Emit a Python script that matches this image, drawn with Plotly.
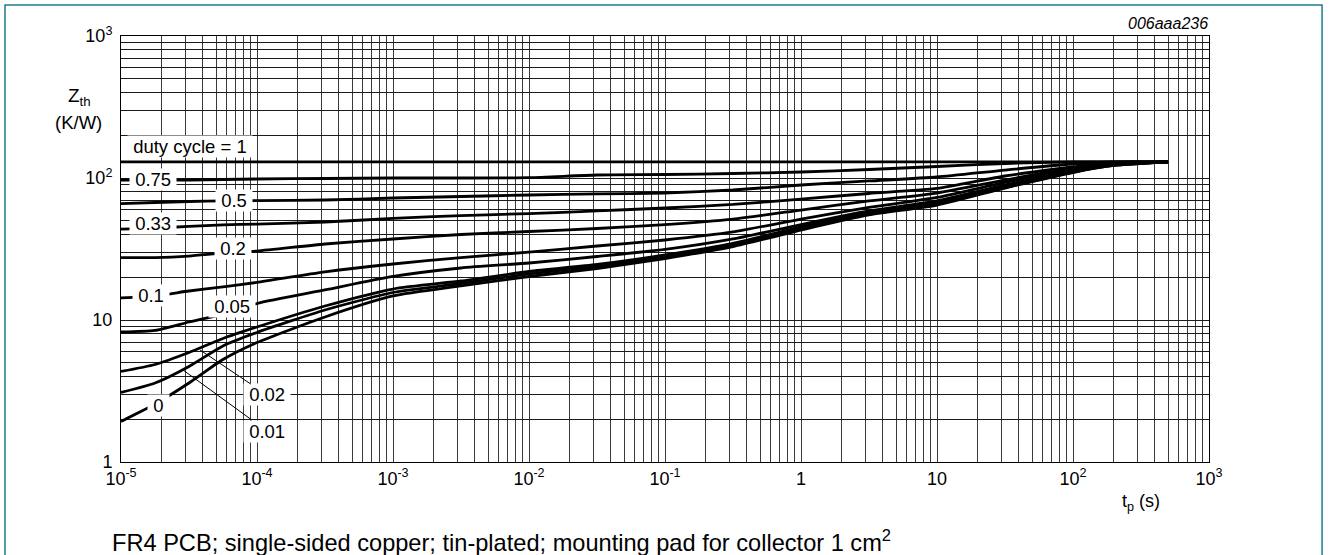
import plotly.graph_objects as go

# ---------------- data ----------------
t_p = [1e-5, 1.78e-5, 3.16e-5, 5.62e-5, 1e-4, 3.16e-4, 1e-3, 3.16e-3, 1e-2, 3.16e-2,
       0.1, 0.316, 1, 3.16, 10, 31.6, 100, 200, 500]

z_d1 = [130, 130, 130, 130, 130, 130, 130, 130, 130, 130, 130, 130, 130, 130, 130, 130, 130, 130, 130]
z_d075 = [96.8, 96.8, 96.8, 97.6, 98.4, 99.2, 100, 100, 100.5, 105, 105.8, 107.6, 110.2, 114.8, 120.5, 126.5, 130, 130, 130]
z_d05 = [66.1, 67.2, 68.3, 68.9, 69.4, 70.0, 72.3, 74.1, 75.9, 77.2, 78.4, 82.3, 89.3, 95.3, 101.6, 113.8, 125.5, 130, 130]
z_d033 = [43.7, 44.4, 45.6, 46.7, 47.4, 49.0, 51.9, 54.4, 56.2, 58.6, 61.5, 65.1, 71.1, 77.8, 84.4, 103.3, 119.5, 128.6, 130]
z_d02 = [27.5, 27.5, 28.2, 29.6, 30.6, 34.3, 37.2, 40.0, 42.0, 44.1, 47.0, 51.4, 59.5, 68.9, 78.4, 96.8, 117.6, 126.5, 130]
z_d01 = [14.3, 14.8, 16.0, 17.1, 18.4, 21.8, 24.8, 27.5, 30.1, 33.2, 36.6, 41.7, 51.4, 62.0, 72.9, 93.0, 115.7, 125.5, 130]
z_d005 = [8.23, 8.44, 9.68, 11.0, 13.07, 16.27, 20.25, 23.24, 25.2, 28.0, 31.4, 37.2, 47.0, 58.6, 68.9, 89.3, 112.9, 124.5, 130]
z_d002 = [4.34, 4.86, 5.90, 7.41, 8.93, 12.55, 16.53, 18.82, 21.96, 24.6, 28.7, 34.6, 45.2, 56.7, 66.7, 87.1, 111.1, 123.5, 130]
z_d001 = [3.09, 3.60, 4.71, 6.56, 8.17, 11.76, 15.62, 18.07, 21.09, 23.82, 27.8, 33.7, 44.1, 55.8, 65.6, 85.7, 110.2, 122.5, 130]
z_d0 = [1.93, 2.56, 3.60, 5.27, 6.94, 10.5, 14.76, 17.36, 20.25, 23.05, 27.1, 32.9, 43.0, 54.9, 64.5, 85.0, 109.3, 122.5, 130]

series = [z_d1, z_d075, z_d05, z_d033, z_d02, z_d01, z_d005, z_d002, z_d001, z_d0]
series_names = ["1", "0.75", "0.5", "0.33", "0.2", "0.1", "0.05", "0.02", "0.01", "0"]

x_decades = [1e-5, 1e-4, 1e-3, 1e-2, 1e-1, 1, 10, 100, 1000]
x_decade_labels = ["10<sup>-5</sup>", "10<sup>-4</sup>", "10<sup>-3</sup>", "10<sup>-2</sup>",
                   "10<sup>-1</sup>", "1", "10", "10<sup>2</sup>", "10<sup>3</sup>"]
y_decades = [1, 10, 100, 1000]
y_decade_labels = ["1", "10", "10<sup>2</sup>", "10<sup>3</sup>"]
minor_digits = [2, 3, 4, 5, 6, 7, 8, 9]

# curve labels: text, label position (log10 t, log10 Z), optional leader tip
curve_labels = [
    ("duty cycle = 1", -4.493, 2.225, None),
    ("0.75", -4.765, 1.986, None),
    ("0.5", -4.169, 1.845, None),
    ("0.33", -4.765, 1.683, None),
    ("0.2", -4.176, 1.507, None),
    ("0.1", -4.779, 1.176, None),
    ("0.05", -4.184, 1.092, None),
    ("0", -4.721, 0.401, None),
    ("0.02", -3.926, 0.472, (-4.419, 0.789)),
    ("0.01", -3.926, 0.218, (-4.544, 0.648)),
]

# ---------------- build ticks (majors labelled, minors blank) ----------------
def build_ticks(decades, labels):
    vals, texts = [], []
    for i, d in enumerate(decades):
        vals.append(d)
        texts.append(labels[i])
        if i < len(decades) - 1:
            for m in minor_digits:
                vals.append(d * m)
                texts.append("")
    return vals, texts

xt_vals, xt_text = build_ticks(x_decades, x_decade_labels)
yt_vals, yt_text = build_ticks(y_decades, y_decade_labels)

FONT = "Liberation Sans, Arial, Helvetica, sans-serif"

fig = go.Figure()
for name, z in zip(series_names, series):
    fig.add_trace(go.Scatter(
        x=t_p, y=z, mode="lines", name=name,
        line=dict(color="black", width=2.8, shape="spline", smoothing=0.6),
        showlegend=False, hoverinfo="skip"))

annotations = []
pad = "\u00a0"
for text, lx, ly, tip in curve_labels:
    if tip is None:
        annotations.append(dict(
            x=lx, y=ly, xref="x", yref="y", text=pad + text + pad, showarrow=False,
            font=dict(family=FONT, size=18.5, color="black"),
            bgcolor="white", borderpad=0, xanchor="center", yanchor="middle"))
    else:
        annotations.append(dict(
            x=tip[0], y=tip[1], xref="x", yref="y", ax=lx, ay=ly, axref="x", ayref="y",
            text=pad + text + pad, showarrow=True, arrowhead=0, arrowwidth=1,
            arrowcolor="black", standoff=0, startstandoff=0,
            font=dict(family=FONT, size=18.5, color="black"),
            bgcolor="white", borderpad=0))

annotations += [
    dict(x=-0.0386, y=0.857, xref="paper", yref="paper", text="Z<sub>th</sub>",
         showarrow=False, font=dict(family=FONT, size=19, color="black"),
         xanchor="center", yanchor="middle"),
    dict(x=-0.0395, y=0.798, xref="paper", yref="paper", text="(K/W)",
         showarrow=False, font=dict(family=FONT, size=18.5, color="black"),
         xanchor="center", yanchor="middle"),
    dict(x=0.9375, y=-0.096, xref="paper", yref="paper", text="t<sub>p</sub> (s)",
         showarrow=False, font=dict(family=FONT, size=18, color="black"),
         xanchor="center", yanchor="middle"),
    dict(x=1.0009, y=1.03, xref="paper", yref="paper", text="<i>006aaa236</i>",
         showarrow=False, font=dict(family=FONT, size=16, color="black"),
         xanchor="right", yanchor="middle"),
    dict(x=-0.0101, y=-0.186, xref="paper", yref="paper",
         text="FR4 PCB; single-sided copper; tin-plated; mounting pad for collector 1 cm<sup>2</sup>",
         showarrow=False, font=dict(family=FONT, size=23.6, color="black"),
         xanchor="left", yanchor="middle"),
]

fig.update_layout(
    width=1330, height=555,
    margin=dict(l=121, r=121, t=36, b=93),
    paper_bgcolor="white", plot_bgcolor="white",
    annotations=annotations,
    shapes=[dict(type="rect", xref="paper", yref="paper",
                 x0=-0.1066, x1=1.1039, y0=-0.3, y1=1.0728,
                 line=dict(color="#1f7c84", width=1.5), layer="below")],
)

fig.update_xaxes(
    type="log", range=[-5, 3], tickmode="array", tickvals=xt_vals, ticktext=xt_text,
    showgrid=True, gridcolor="#3a3a3a", gridwidth=1, zeroline=False,
    showline=True, linecolor="black", linewidth=1, mirror=True,
    ticks="", tickfont=dict(family=FONT, size=18, color="black"))
fig.update_yaxes(
    type="log", range=[0, 3], tickmode="array", tickvals=yt_vals, ticktext=yt_text,
    showgrid=True, gridcolor="#1a1a1a", gridwidth=1, zeroline=False,
    showline=True, linecolor="black", linewidth=1, mirror=True,
    ticks="", ticklabelstandoff=4, tickfont=dict(family=FONT, size=18, color="black"))

fig.write_html("out.html", config={"displayModeBar": False},
               post_script="document.body.style.margin='0px';")
